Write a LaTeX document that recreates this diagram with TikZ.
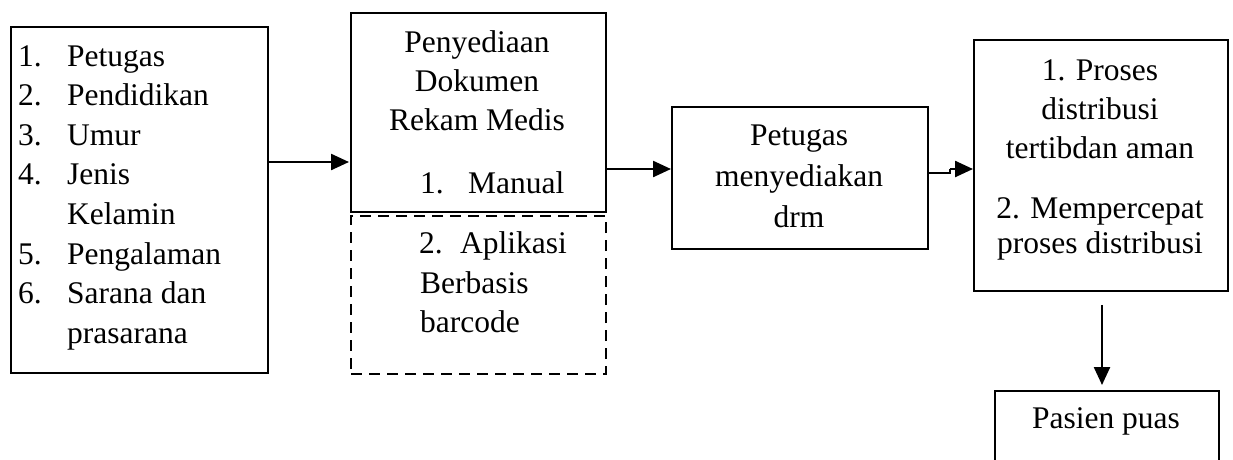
\documentclass[tikz,border=0pt]{standalone}
\usepackage{fontspec}
\setmainfont{Liberation Serif}
\usetikzlibrary{arrows.meta}
\begin{document}
\begin{tikzpicture}[x=1pt,y=-1pt,
  box/.style={draw, line width=1.8pt, inner sep=0pt, anchor=north west},
  dbox/.style={box, dash pattern=on 11pt off 7pt, line width=2.2pt},
  txt/.style={inner sep=0pt, font=\fontsize{31.5}{38}\selectfont},
  lt/.style={txt, anchor=base west},
  ct/.style={txt, anchor=base},
  conn/.style={line width=2.4pt, -{Triangle[length=18pt,width=16pt]}}]
\useasboundingbox (0,0) rectangle (1233,459);
% boxes
\node[box, minimum width=257pt, minimum height=346pt] (b1) at (10,26) {};
\node[box, minimum width=255pt, minimum height=199pt] (b2) at (350,12) {};
\node[dbox, minimum width=255pt, minimum height=158pt] (b2d) at (350,215) {};
\node[box, minimum width=256pt, minimum height=142pt] (b3) at (671,106) {};
\node[box, minimum width=254pt, minimum height=251pt] (b4) at (973,39) {};
\node[box, minimum width=224pt, minimum height=100pt] (b5) at (994,390) {};
% box 1 text
\node[lt] (n1) at (18,66) {1.};   \node[lt] (w1) at (67,66) {Petugas};
\node[lt] (n2) at (18,105.6) {2.}; \node[lt] (w2) at (67,105.6) {Pendidikan};
\node[lt] (n3) at (18,145.2) {3.}; \node[lt] (w3) at (67,145.2) {Umur};
\node[lt] (n4) at (18,184.8) {4.}; \node[lt] (w4) at (67,184.8) {Jenis};
\node[lt] (w4b) at (67,224.4) {Kelamin};
\node[lt] (n5) at (18,264) {5.};   \node[lt] (w5) at (67,264) {Pengalaman};
\node[lt] (n6) at (18,303.6) {6.}; \node[lt] (w6) at (67,303.6) {Sarana dan};
\node[lt] (w6b) at (67,343.2) {prasarana};
% box 2 text
\node[ct] (p1) at (477,52) {Penyediaan};
\node[ct] (p2) at (477,91) {Dokumen};
\node[ct] (p3) at (477,130) {Rekam Medis};
\node[lt] (m1) at (420,193) {1.};
\node[lt] (m2) at (468,193) {Manual};
\node[lt] (a1) at (419,253) {2.};
\node[lt] (a2) at (460,253) {Aplikasi};
\node[lt] (a3) at (420,293) {Berbasis};
\node[lt] (a4) at (420,332) {barcode};
% box 3 text
\node[ct] (q1) at (799,145) {Petugas};
\node[ct] (q2) at (799,186) {menyediakan};
\node[ct] (q3) at (799,227) {drm};
% box 4 text
\node[ct] (r1t) at (1100,80) {1. Proses};
\node[ct] (r2t) at (1100,119) {distribusi};
\node[ct] (r3t) at (1100,158) {tertibdan aman};
\node[ct] (r4t) at (1100,218) {2. Mempercepat};
\node[ct] (r5t) at (1100,253) {proses distribusi};
% box 5 text
\node[ct] (s1t) at (1106,428) {Pasien puas};
% connectors
\coordinate (y1) at (0,162);
\coordinate (y2) at (0,169);
\coordinate (k1) at (950,173);
\coordinate (k2) at (950,169);
\coordinate (xd) at (1102,0);
\draw[conn, shorten >=1pt] (b1.east |- y1) -- (b2.west |- y1);
\draw[conn] (b2.east |- y2) -- (b3.west |- y2);
\draw[line width=2.4pt] (b3.east |- k1) -- (k1) -- (k2);
\draw[conn] (k2) -- (b4.west |- k2);
\draw[conn, shorten >=5pt] ([yshift=-13pt]b4.south -| xd) -- (b5.north -| xd);
\end{tikzpicture}
\end{document}
